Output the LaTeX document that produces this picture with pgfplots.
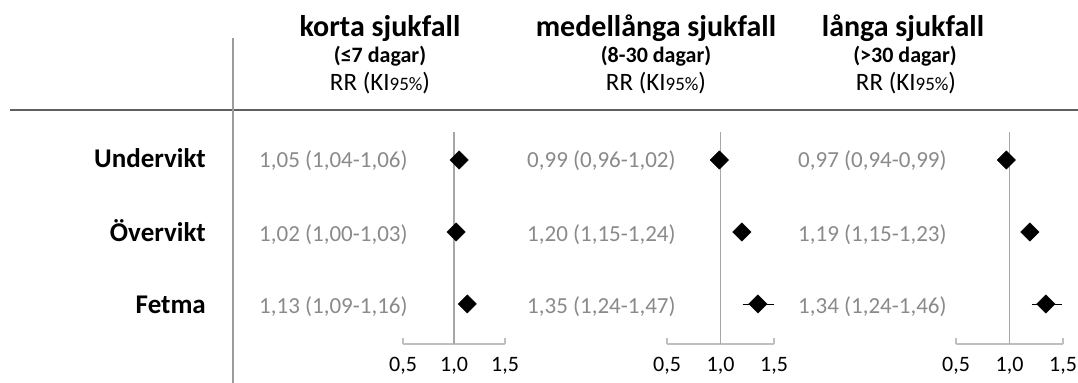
\documentclass[border=0pt]{standalone}
\usepackage{pgfplots}
\pgfplotsset{compat=1.18}
\usepackage{fontspec}
\setmainfont{Carlito}
\definecolor{valgray}{HTML}{8A8A8A}
\definecolor{hline}{HTML}{5F5F5F}
\definecolor{vline}{HTML}{9C9C9C}
\definecolor{refl}{HTML}{A6A6A6}
\definecolor{brk}{HTML}{BFBFBF}
\newcommand\fs[1]{\fontsize{#1bp}{#1bp}\selectfont}
\newcommand\sm{\fontsize{19bp}{19bp}\selectfont}

\pgfplotstableread{
x y ep em
1.05 3 0.01 0.01
1.02 2 0.01 0.02
1.13 1 0.03 0.04
}\pone
\pgfplotstableread{
x y ep em
0.99 3 0.03 0.03
1.20 2 0.04 0.05
1.35 1 0.12 0.11
}\ptwo
\pgfplotstableread{
x y ep em
0.97 3 0.02 0.03
1.19 2 0.04 0.04
1.34 1 0.12 0.10
}\pthree

\pgfplotsset{
  panel/.style={
    anchor=south west, scale only axis, height=212bp,
    xmin=0.5, xmax=1.5, ymin=0.444, ymax=3.389,
    axis x line*=bottom, axis y line=none, ytick=\empty,
    xtick={0.5,1,1.5}, xticklabels={{0,5},{1,0},{1,5}},
    tick align=inside, major tick length=6bp,
    x axis line style={draw=brk, line width=1.3bp},
    every tick/.style={draw=brk, line width=1.3bp},
    xticklabel style={anchor=base, yshift=-27bp, font=\fs{22}, text=black, inner sep=0pt},
    clip=false,
  },
  fp/.style={only marks, mark=square*, mark size=6.5bp,
    mark options={rotate=45, draw=black, fill=black},
    error bars/.cd, x dir=both, x explicit,
    error bar style={black, line width=0.8bp},
    error mark options={black, mark size=3.5bp, line width=0.8bp}},
}

\begin{document}
\begin{tikzpicture}
\useasboundingbox (0,0) rectangle (1078bp,383bp);
\draw[hline, line width=2bp] (10bp,273bp) -- (1078bp,273bp);
\draw[vline, line width=1.8bp] (233bp,345bp) -- (233bp,0bp);

% row labels
\node[anchor=base east, inner sep=0pt, font={\fs{27}\bfseries}] at (206bp,215bp) {Undervikt};
\node[anchor=base east, inner sep=0pt, font={\fs{27}\bfseries}] at (206bp,141bp) {Övervikt};
\node[anchor=base east, inner sep=0pt, font={\fs{27}\bfseries}] at (206bp,69bp) {Fetma};

% titles
\node[anchor=base, inner sep=0pt, font={\fs{30}\bfseries}] at (380bp,346bp) {korta sjukfall};
\node[anchor=base, inner sep=0pt, font={\fs{22}\bfseries}] at (380bp,320bp) {(≤7 dagar)};
\node[anchor=base, inner sep=0pt, font={\fs{25}}] at (380bp,292bp) {RR (KI{\sm 95\%})};

\node[anchor=base, inner sep=0pt, font={\fs{30}\bfseries}] at (656bp,346bp) {medellånga sjukfall};
\node[anchor=base, inner sep=0pt, font={\fs{22}\bfseries}] at (656bp,320bp) {(8-30 dagar)};
\node[anchor=base, inner sep=0pt, font={\fs{25}}] at (656bp,292bp) {RR (KI{\sm 95\%})};

\node[anchor=base, inner sep=0pt, font={\fs{30}\bfseries}] at (903bp,346bp) {långa sjukfall};
\node[anchor=base, inner sep=0pt, font={\fs{22}\bfseries}] at (905bp,320bp) {(>30 dagar)};
\node[anchor=base, inner sep=0pt, font={\fs{25}}] at (906bp,292bp) {RR (KI{\sm 95\%})};

% value labels
\begin{scope}[every node/.style={anchor=base west, inner sep=0pt, font={\fs{23}}, text=valgray}]
\node at (259bp,215bp) {1,05 (1,04-1,06)};
\node at (259bp,141bp) {1,02 (1,00-1,03)};
\node at (259bp,69bp) {1,13 (1,09-1,16)};
\node at (527bp,215bp) {0,99 (0,96-1,02)};
\node at (527bp,141bp) {1,20 (1,15-1,24)};
\node at (527bp,69bp) {1,35 (1,24-1,47)};
\node at (798bp,215bp) {0,97 (0,94-0,99)};
\node at (798bp,141bp) {1,19 (1,15-1,23)};
\node at (798bp,69bp) {1,34 (1,24-1,46)};
\end{scope}

\begin{axis}[panel, at={(403bp,39bp)}, width=102bp]
\draw[refl, line width=1.2bp] (1,0.444) -- (1,3.389);
\addplot[fp] table[x=x, y=y, x error plus=ep, x error minus=em] {\pone};
\end{axis}

\begin{axis}[panel, at={(667bp,39bp)}, width=107bp]
\draw[refl, line width=1.2bp] (1,0.444) -- (1,3.389);
\addplot[fp] table[x=x, y=y, x error plus=ep, x error minus=em] {\ptwo};
\end{axis}

\begin{axis}[panel, at={(956bp,39bp)}, width=107bp]
\draw[refl, line width=1.2bp] (1,0.444) -- (1,3.389);
\addplot[fp] table[x=x, y=y, x error plus=ep, x error minus=em] {\pthree};
\end{axis}
\end{tikzpicture}
\end{document}
